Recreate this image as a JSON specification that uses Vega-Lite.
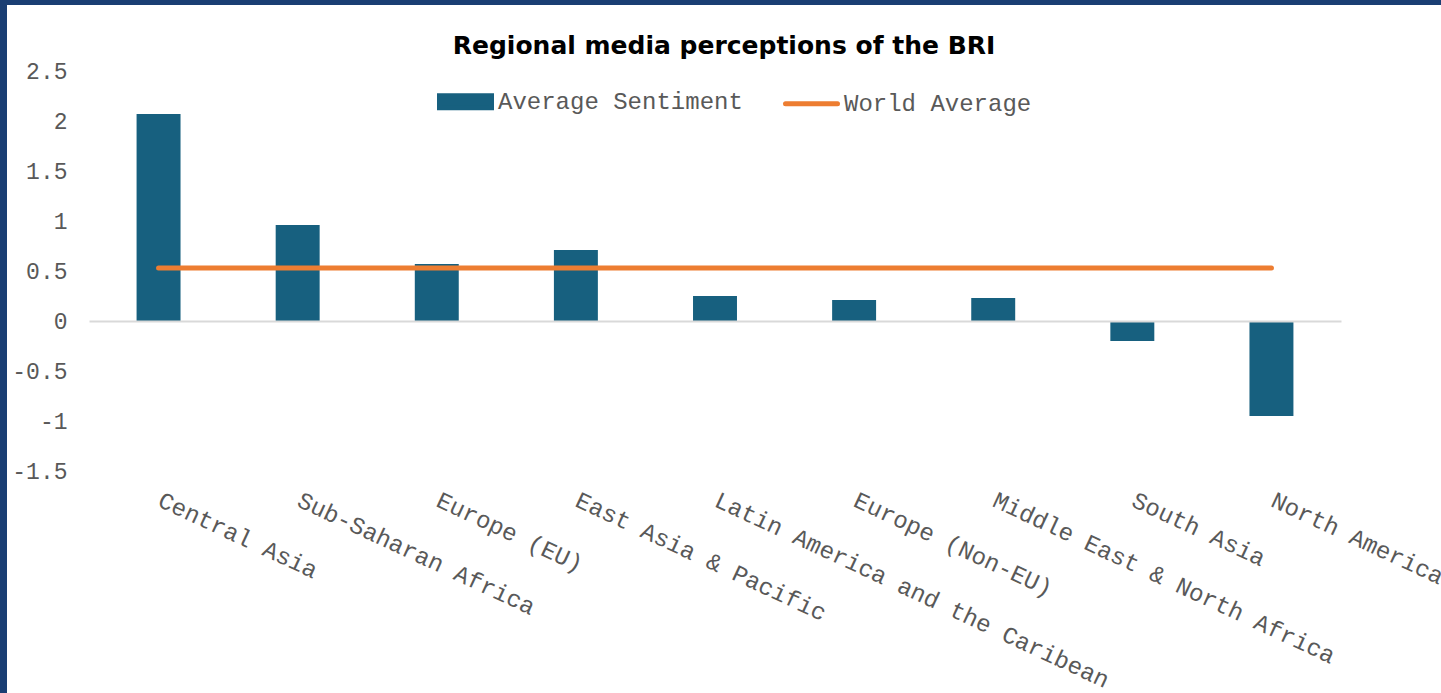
{
  "$schema": "https://vega.github.io/schema/vega-lite/v6.json",
  "width": 1434,
  "height": 688,
  "autosize": {"type": "none"},
  "padding": {"left": 7, "top": 5, "right": 0, "bottom": 0},
  "background": "#1a3e73",
  "config": {
    "view": {"fill": "white", "stroke": null},
    "font": "Liberation Mono"
  },
  "title": {
    "text": "Regional media perceptions of the BRI",
    "font": "DejaVu Sans",
    "fontSize": 25,
    "fontWeight": "bold",
    "color": "#000000",
    "anchor": "middle",
    "orient": "top",
    "baseline": "middle",
    "offset": -66
  },
  "data": {
    "values": [
      {"Region": "Central Asia", "Sentiment": 2.07, "World": 0.53},
      {"Region": "Sub-Saharan Africa", "Sentiment": 0.96, "World": 0.53},
      {"Region": "Europe (EU)", "Sentiment": 0.57, "World": 0.53},
      {"Region": "East Asia & Pacific", "Sentiment": 0.71, "World": 0.53},
      {"Region": "Latin America and the Caribean", "Sentiment": 0.25, "World": 0.53},
      {"Region": "Europe (Non-EU)", "Sentiment": 0.21, "World": 0.53},
      {"Region": "Middle East & North Africa", "Sentiment": 0.23, "World": 0.53},
      {"Region": "South Asia", "Sentiment": -0.2, "World": 0.53},
      {"Region": "North America", "Sentiment": -0.95, "World": 0.53}
    ]
  },
  "encoding": {
    "x": {
      "field": "Region",
      "type": "nominal",
      "sort": null,
      "scale": {"range": [82, 1334], "paddingInner": 0.684, "paddingOuter": 0.342},
      "axis": {
        "title": null,
        "orient": "bottom",
        "offset": -372,
        "domain": true,
        "domainColor": "#d9d9d9",
        "domainWidth": 2,
        "ticks": false,
        "tickSize": 0,
        "labelPadding": 167,
        "labelOffset": 6,
        "labelAngle": 25,
        "labelAlign": "left",
        "labelBaseline": "top",
        "labelFont": "Liberation Mono",
        "labelFontSize": 24,
        "labelColor": "#595959",
        "labelOverlap": false,
        "labelLimit": 0,
        "zindex": 1
      }
    }
  },
  "layer": [
    {
      "mark": {"type": "bar", "color": "#17607f"},
      "encoding": {
        "y": {
          "field": "Sentiment",
          "type": "quantitative",
          "scale": {"domain": [-1.5, 2.5], "range": [466, 66], "nice": false, "zero": true},
          "axis": {
            "title": null,
            "orient": "left",
            "offset": -60,
            "domain": false,
            "ticks": false,
            "tickSize": 0,
            "grid": false,
            "labelPadding": 0,
            "values": [-1.5, -1, -0.5, 0, 0.5, 1, 1.5, 2, 2.5],
            "labelExpr": "'' + datum.value",
            "labelFont": "Liberation Mono",
            "labelFontSize": 23,
            "labelColor": "#595959",
            "labelBaseline": "middle",
            "labelAlign": "right"
          }
        },
        "color": {
          "datum": "Average Sentiment",
          "scale": {"domain": ["Average Sentiment", "World Average"], "range": ["#17607f", "#ed7d31"]},
          "legend": {
            "title": null,
            "orient": "none",
            "legendX": 430,
            "legendY": 68,
            "direction": "horizontal",
            "columnPadding": 32,
            "labelOffset": 4,
            "labelLimit": 0,
            "labelFont": "Liberation Mono",
            "labelFontSize": 24,
            "labelColor": "#595959",
            "symbolSize": 2704,
            "encode": {
              "symbols": {
                "update": {
                  "shape": {"signal": "datum.value === 'World Average' ? 'stroke' : 'M-1,-0.23H1V0.23H-1Z'"},
                  "fill": {"signal": "datum.value === 'World Average' ? 'transparent' : '#17607f'"},
                  "stroke": {"signal": "datum.value === 'World Average' ? '#ed7d31' : 'transparent'"},
                  "strokeWidth": {"value": 5},
                  "strokeCap": {"value": "round"},
                  "opacity": {"value": 1}
                }
              }
            }
          }
        }
      }
    },
    {
      "mark": {"type": "line", "strokeWidth": 5, "strokeCap": "round", "color": "#ed7d31"},
      "encoding": {
        "y": {"field": "World", "type": "quantitative"},
        "color": {"datum": "World Average"}
      }
    }
  ]
}
